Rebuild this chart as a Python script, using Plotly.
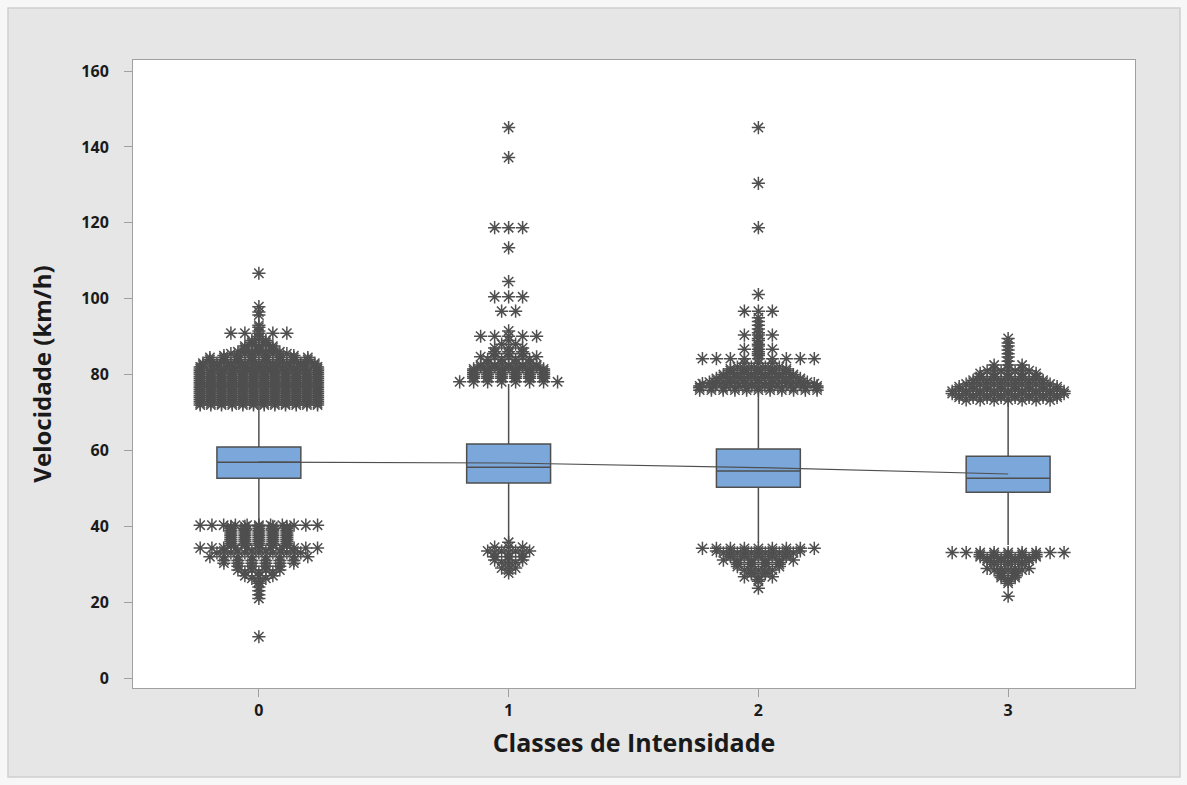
import plotly.graph_objects as go

# Box-plot summary per intensity class
classes = [0, 1, 2, 3]
q1 = [52.7, 51.4, 50.3, 49.0]
medians = [56.9, 55.6, 54.6, 52.7]
q3 = [60.9, 61.7, 60.4, 58.5]
whisker_low = [40.9, 36.4, 35.6, 35.1]
whisker_high = [72.0, 77.5, 75.6, 72.8]
means = [56.9, 56.7, 55.5, 53.8]

# Outliers: value and number of tied observations at that value
out0_vals = [72.0, 72.5, 73.0, 73.5, 74.0, 74.5, 75.0, 75.5, 76.0, 76.5, 77.0, 77.5,
             78.0, 78.5, 79.0, 79.5, 80.0, 80.5, 81.0, 81.5, 82.0, 82.5, 83.0, 83.5,
             84.0, 84.5, 85.0, 85.5, 86.0, 86.5, 87.0, 87.5, 88.0, 88.5, 89.0, 89.5,
             90.0, 90.9, 91.5, 92.5, 93.0, 95.7, 96.5, 97.9, 106.7,
             40.3, 40.0, 39.5, 39.0, 38.5, 38.0, 37.5, 37.0, 36.5, 36.0, 35.5, 35.0,
             34.3, 33.5, 33.0, 32.0, 31.0, 30.3, 29.5, 28.5, 28.0, 27.0, 26.3, 25.5,
             25.0, 24.0, 23.0, 22.0, 21.0, 10.9]
out0_cnts = [12, 12, 12, 12, 12, 12, 12, 12, 12, 12, 12, 12,
             12, 12, 12, 12, 12, 12, 12, 11, 10, 9, 9, 8,
             8, 8, 6, 5, 4, 3, 3, 3, 2, 2, 2, 1,
             1, 5, 1, 1, 1, 1, 1, 1, 1,
             11, 5, 5, 5, 5, 5, 5, 5, 5, 5, 5, 5,
             11, 6, 7, 8, 6, 6, 4, 4, 3, 3, 2, 1,
             1, 1, 1, 1, 1, 1]

out1_vals = [78.1, 79.0, 79.5, 80.0, 80.5, 81.0, 81.5, 82.0, 82.5, 83.0, 84.0, 84.7,
             85.5, 86.0, 87.0, 88.0, 89.0, 90.1, 91.5, 96.7, 100.5, 104.5, 113.4,
             118.7, 137.2, 145.1,
             35.8, 34.5, 33.5, 33.0, 32.0, 31.1, 30.5, 29.8, 29.0, 28.5, 27.7]
out1_cnts = [8, 6, 6, 6, 6, 6, 6, 5, 5, 4, 4, 5,
             3, 3, 3, 2, 1, 5, 1, 2, 3, 1, 1,
             3, 1, 1,
             1, 3, 4, 3, 3, 3, 2, 1, 2, 1, 1]

out2_vals = [75.9, 76.5, 77.0, 77.6, 78.0, 78.5, 79.0, 79.5, 80.0, 80.5, 81.0, 81.5,
             82.0, 83.0, 84.2, 85.0, 85.5, 86.0, 86.7, 87.5, 88.0, 89.0, 89.5, 90.4,
             91.0, 92.0, 93.0, 94.0, 95.0, 96.7, 101.1, 118.7, 130.4, 145.1,
             34.2, 33.5, 33.0, 32.5, 32.0, 31.1, 30.5, 30.0, 29.4, 28.5, 28.0, 27.5,
             26.7, 26.0, 25.5, 23.7]
out2_cnts = [11, 11, 10, 9, 8, 7, 7, 6, 6, 5, 5, 5,
             4, 3, 9, 1, 1, 1, 3, 1, 1, 1, 1, 3,
             1, 1, 1, 1, 1, 3, 1, 1, 1, 1,
             9, 7, 6, 5, 5, 6, 4, 4, 4, 3, 2, 2,
             3, 1, 1, 1]

out3_vals = [73.3, 74.0, 74.5, 75.0, 75.6, 76.2, 76.8, 77.5, 78.0, 78.5, 79.0, 79.5,
             80.3, 81.0, 81.5, 82.5, 83.5, 84.6, 85.5, 86.5, 87.5, 88.3, 89.5,
             33.1, 32.5, 32.0, 31.5, 31.0, 30.5, 30.0, 28.9, 28.5, 28.0, 27.5, 27.0,
             26.5, 26.0, 25.5, 25.0, 21.6]
out3_cnts = [7, 8, 8, 9, 9, 8, 8, 7, 6, 6, 5, 5,
             5, 4, 3, 3, 1, 1, 1, 1, 1, 1, 1,
             9, 5, 5, 4, 4, 3, 3, 4, 3, 2, 2, 2,
             2, 1, 1, 1, 1]

outlier_vals = [out0_vals, out1_vals, out2_vals, out3_vals]
outlier_cnts = [out0_cnts, out1_cnts, out2_cnts, out3_cnts]

BOX_FILL = "#7BA7DB"
INK = "#4F4F4F"
FONT = "Open Sans"

fig = go.Figure()

# Tied outliers are laid side by side around the class position
for c, vals, cnts in zip(classes, outlier_vals, outlier_cnts):
    xs, ys = [], []
    for v, n in zip(vals, cnts):
        step = 0.056 if n < 2 else min(0.056, 0.47 / (n - 1))
        for i in range(n):
            xs.append(c + (i - (n - 1) / 2) * step)
            ys.append(v)
    fig.add_trace(go.Scatter(
        x=xs, y=ys, mode="markers", showlegend=False, hoverinfo="y",
        marker=dict(symbol="asterisk-open", size=11, color=INK,
                    line=dict(color=INK, width=1.5)),
    ))

for c, a, m, b, lo, hi in zip(classes, q1, medians, q3, whisker_low, whisker_high):
    fig.add_trace(go.Box(
        x=[c], q1=[a], median=[m], q3=[b], lowerfence=[lo], upperfence=[hi],
        width=0.336, whiskerwidth=0, boxpoints=False, showlegend=False,
        fillcolor=BOX_FILL, line=dict(color=INK, width=1.5),
    ))

# Line joining the class means
fig.add_trace(go.Scatter(
    x=classes, y=means, mode="lines", showlegend=False,
    line=dict(color=INK, width=1.2),
))

ML, MR, MT, MB = 133, 52, 60, 97
W, H = 1187, 785
pw, ph = W - ML - MR, H - MT - MB

# Grey panel behind the whole graph, white data region on top of it
fig.add_shape(
    type="rect", xref="paper", yref="paper", layer="below",
    x0=(8 - ML) / pw, x1=(1180 - ML) / pw,
    y0=(H - MB - 777) / ph, y1=(H - MB - 8) / ph,
    fillcolor="#E6E6E6", line=dict(color="#CFCFCF", width=1.5),
)
fig.add_shape(
    type="rect", xref="paper", yref="paper", layer="below",
    x0=0, x1=1, y0=0, y1=1,
    fillcolor="white", line=dict(width=0),
)

fig.update_layout(
    width=W, height=H,
    margin=dict(l=ML, r=MR, t=MT, b=MB),
    paper_bgcolor="#F7F7F7",
    plot_bgcolor="white",
    font=dict(family=FONT, color="#1A1A1A"),
    xaxis=dict(
        range=[-0.504, 3.508], tickmode="array", tickvals=classes,
        ticktext=[str(c) for c in classes],
        showgrid=False, zeroline=False,
        showline=True, mirror=True, linecolor="#A0A0A0", linewidth=1,
        ticks="outside", ticklen=8, tickcolor="#A0A0A0",
        ticklabelstandoff=0,
        tickfont=dict(size=16, family=FONT, weight="bold"),
        title=dict(text="Classes de Intensidade", standoff=14,
                   font=dict(size=25, family=FONT, weight="bold")),
    ),
    yaxis=dict(
        range=[-2.6, 162.9], tickmode="array",
        tickvals=[0, 20, 40, 60, 80, 100, 120, 140, 160],
        showgrid=False, zeroline=False,
        showline=True, mirror=True, linecolor="#A0A0A0", linewidth=1,
        ticks="outside", ticklen=8, tickcolor="#A0A0A0",
        ticklabelstandoff=12,
        tickfont=dict(size=16, family=FONT, weight="bold"),
        title=dict(text="Velocidade (km/h)", standoff=22,
                   font=dict(size=24, family=FONT, weight="bold")),
    ),
)

fig.write_html("out.html")
